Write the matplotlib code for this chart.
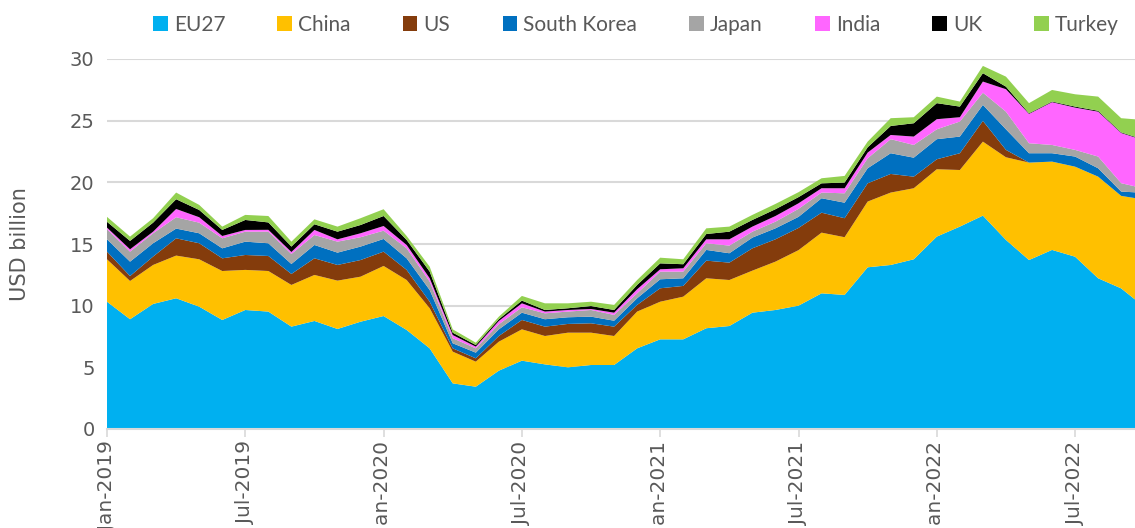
import numpy as np
import matplotlib
matplotlib.use("Agg")
import matplotlib.pyplot as plt
from matplotlib.patches import Patch

# Monthly data Jan-2019 .. Oct-2022 (USD billion)
months = ["Jan-2019", "Feb-2019", "Mar-2019", "Apr-2019", "May-2019", "Jun-2019",
          "Jul-2019", "Aug-2019", "Sep-2019", "Oct-2019", "Nov-2019", "Dec-2019",
          "Jan-2020", "Feb-2020", "Mar-2020", "Apr-2020", "May-2020", "Jun-2020",
          "Jul-2020", "Aug-2020", "Sep-2020", "Oct-2020", "Nov-2020", "Dec-2020",
          "Jan-2021", "Feb-2021", "Mar-2021", "Apr-2021", "May-2021", "Jun-2021",
          "Jul-2021", "Aug-2021", "Sep-2021", "Oct-2021", "Nov-2021", "Dec-2021",
          "Jan-2022", "Feb-2022", "Mar-2022", "Apr-2022", "May-2022", "Jun-2022",
          "Jul-2022", "Aug-2022", "Sep-2022", "Oct-2022"]

eu27 = [10.32, 8.9, 10.14, 10.6, 9.92, 8.84, 9.65, 9.52, 8.3, 8.76, 8.11, 8.7,
        9.16, 8.03, 6.54, 3.7, 3.43, 4.73, 5.54, 5.24, 5.0, 5.19, 5.19, 6.54,
        7.27, 7.27, 8.17, 8.35, 9.43, 9.65, 10.0, 11.0, 10.87, 13.11, 13.3, 13.76,
        15.6, 16.41, 17.3, 15.33, 13.7, 14.52, 13.97, 12.22, 11.4, 9.9]
china = [3.44, 3.1, 3.16, 3.46, 3.84, 3.97, 3.25, 3.29, 3.38, 3.73, 3.92, 3.65,
         4.06, 4.05, 3.25, 2.57, 2.03, 2.35, 2.54, 2.3, 2.81, 2.62, 2.35, 2.98,
         3.05, 3.46, 4.05, 3.73, 3.41, 3.92, 4.5, 4.92, 4.68, 5.33, 5.87, 5.76,
         5.46, 4.59, 6.0, 6.7, 7.9, 7.16, 7.3, 8.24, 7.5, 8.7]
us = [0.62, 0.4, 0.68, 1.4, 1.3, 1.03, 1.21, 1.22, 0.89, 1.35, 1.27, 1.35,
      1.16, 0.82, 0.53, 0.27, 0.27, 0.46, 0.76, 0.76, 0.71, 0.76, 0.76, 0.54,
      1.09, 0.87, 1.43, 1.41, 1.81, 1.81, 1.8, 1.62, 1.54, 1.48, 1.51, 0.94,
      0.81, 1.36, 1.68, 0.6, 0.0, 0.0, 0.0, 0.0, 0.0, 0.0]
south_korea = [1.0, 1.17, 1.08, 0.79, 0.81, 0.81, 1.08, 1.03, 0.81, 1.08, 1.0, 1.09,
               1.03, 0.94, 0.95, 0.41, 0.46, 0.54, 0.59, 0.6, 0.54, 0.54, 0.48, 0.54,
               0.73, 0.62, 0.87, 0.76, 0.87, 0.89, 0.9, 1.17, 1.26, 1.22, 1.68, 1.54,
               1.63, 1.35, 1.3, 1.67, 0.76, 0.68, 0.82, 0.68, 0.35, 0.55]
japan = [0.82, 0.81, 0.81, 0.92, 0.86, 0.81, 0.81, 0.94, 0.81, 0.81, 0.89, 0.76,
         0.67, 0.81, 0.68, 0.41, 0.35, 0.41, 0.44, 0.48, 0.46, 0.54, 0.47, 0.4,
         0.62, 0.54, 0.54, 0.62, 0.48, 0.54, 0.65, 0.46, 0.76, 0.81, 1.14, 1.03,
         0.8, 1.22, 0.99, 1.43, 0.81, 0.67, 0.54, 0.95, 0.68, 0.35]
india = [0.13, 0.19, 0.13, 0.67, 0.44, 0.19, 0.14, 0.15, 0.16, 0.41, 0.19, 0.32,
         0.38, 0.27, 0.27, 0.26, 0.14, 0.27, 0.32, 0.14, 0.13, 0.08, 0.18, 0.33,
         0.19, 0.27, 0.32, 0.51, 0.41, 0.46, 0.45, 0.35, 0.41, 0.46, 0.34, 0.68,
         0.82, 0.35, 0.9, 1.82, 2.38, 3.47, 3.43, 3.64, 4.07, 3.9]
uk = [0.47, 0.68, 0.73, 0.79, 0.59, 0.49, 0.81, 0.6, 0.44, 0.46, 0.62, 0.67,
      0.81, 0.41, 0.54, 0.19, 0.13, 0.14, 0.22, 0.13, 0.14, 0.24, 0.22, 0.35,
      0.48, 0.33, 0.43, 0.62, 0.54, 0.55, 0.5, 0.4, 0.46, 0.43, 0.73, 1.08,
      1.3, 0.86, 0.68, 0.21, 0.05, 0.05, 0.08, 0.07, 0.05, 0.05]
turkey = [0.4, 0.35, 0.36, 0.54, 0.41, 0.27, 0.41, 0.52, 0.4, 0.4, 0.41, 0.55,
          0.55, 0.32, 0.4, 0.27, 0.19, 0.21, 0.38, 0.54, 0.4, 0.35, 0.41, 0.4,
          0.46, 0.4, 0.46, 0.41, 0.41, 0.43, 0.4, 0.41, 0.54, 0.46, 0.63, 0.49,
          0.53, 0.41, 0.59, 0.81, 0.82, 0.94, 1.0, 1.15, 1.15, 1.6]

series_names = ["EU27", "China", "US", "South Korea", "Japan", "India", "UK", "Turkey"]
colors = ["#00B0F0", "#FFC000", "#843C0C", "#0070C0", "#A5A5A5", "#FF66FF", "#000000", "#92D050"]
tick_labels = ["Jan-2019", "Jul-2019", "Jan-2020", "Jul-2020", "Jan-2021",
               "Jul-2021", "Jan-2022", "Jul-2022"]
y_ticks = [0, 5, 10, 15, 20, 25, 30]

W, H = 1135, 528
fig = plt.figure(figsize=(W / 100, H / 100), dpi=100)
left_px, right_px, top_px, bot_px = 107, 1135, 59, 429
ax = fig.add_axes([left_px / W, 1 - bot_px / H, (right_px - left_px) / W, (bot_px - top_px) / H])

x = np.arange(len(months))
ax.stackplot(x, eu27, china, us, south_korea, japan, india, uk, turkey,
             colors=colors, linewidth=0, zorder=2)

month_px = 23.05
ax.set_xlim(0, (right_px - left_px) / month_px)
ax.set_ylim(0, 30)

ax.set_yticks(y_ticks)
ax.set_yticklabels([str(v) for v in y_ticks], fontsize=14, color="#595959")
ax.yaxis.grid(True, color="#D9D9D9", linewidth=1.5, zorder=0)
ax.set_axisbelow(True)
ax.tick_params(axis="y", length=0, pad=9)

tick_pos = [months.index(t) for t in tick_labels]
ax.set_xticks(tick_pos)
ax.set_xticklabels(tick_labels, rotation=90, fontsize=14.5, color="#595959",
                   va="top", ha="center")
ax.tick_params(axis="x", length=6, width=1.2, color="#D9D9D9", pad=3)

for s in ["top", "right", "left"]:
    ax.spines[s].set_visible(False)
ax.spines["bottom"].set_color("#D9D9D9")
ax.spines["bottom"].set_linewidth(1.5)
ax.spines["bottom"].set_zorder(3)

ax.set_ylabel("USD billion", fontsize=15, color="#595959")
ax.yaxis.set_label_coords(-(107 - 30) / (right_px - left_px), 0.5)

handles = [Patch(facecolor=c, edgecolor="none") for c in colors]
leg = fig.legend(handles, series_names, loc="center", ncol=8,
                 bbox_to_anchor=(636 / W, 1 - 25 / H), frameon=False,
                 handlelength=0.7, handleheight=0.7, handletextpad=0.3,
                 columnspacing=2.5,
                 prop={"family": ["Lato", "DejaVu Sans"], "size": 15})
for t in leg.get_texts():
    t.set_color("#595959")

fig.savefig("out.png", dpi=100)
